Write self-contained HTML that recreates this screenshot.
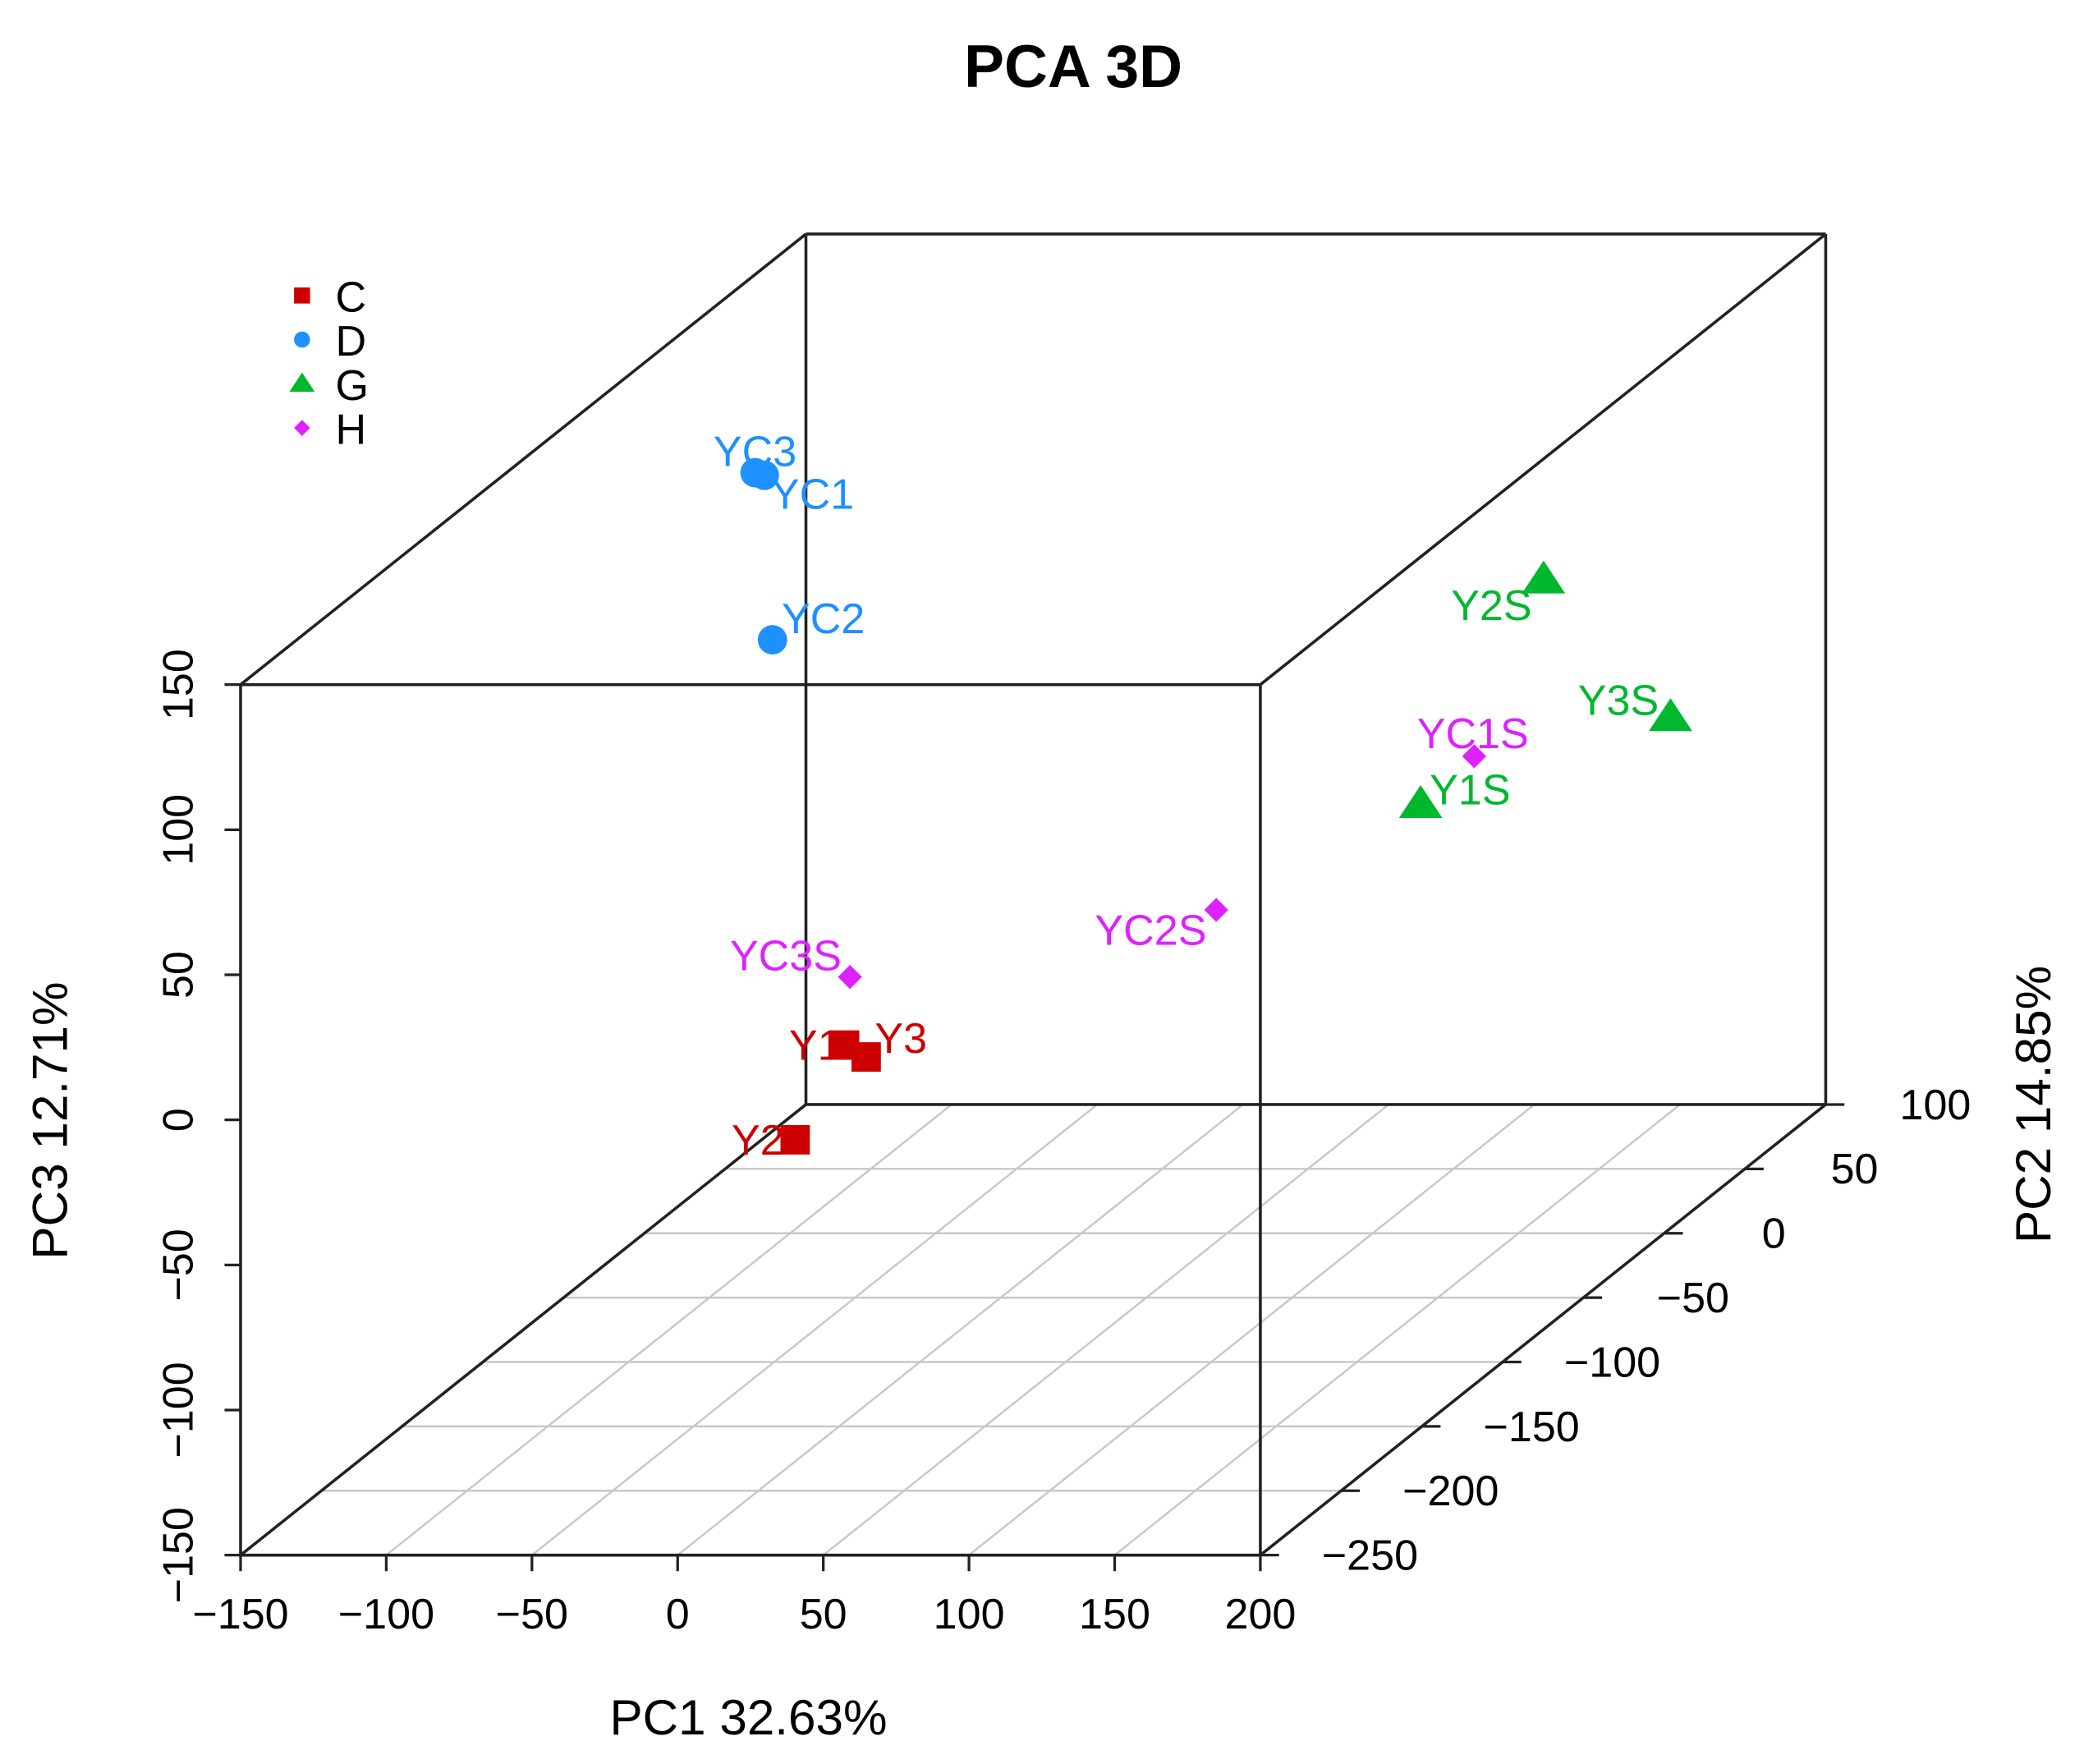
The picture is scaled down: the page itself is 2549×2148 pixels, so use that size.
<!DOCTYPE html>
<html><head><meta charset="utf-8"><style>html,body{margin:0;padding:0;background:#fff}svg{display:block}</style></head>
<body>
<svg id="chart" width="2549" height="2148" viewBox="0 0 1566 1319.2" preserveAspectRatio="none" xmlns="http://www.w3.org/2000/svg" font-family="Liberation Sans, Arial, sans-serif">
<text x="803" y="65" text-anchor="middle" font-size="45" font-weight="bold">PCA 3D</text>
<g id="grid"></g>
<g id="box"></g>
<g id="axes"></g>
<g id="points"></g>
<g id="legend"></g>
<text x="560" y="1297" text-anchor="middle" font-size="37">PC1 32.63%</text>
<text transform="translate(50,838) rotate(-90)" text-anchor="middle" font-size="37">PC3 12.71%</text>
<text transform="translate(1534,826) rotate(-90)" text-anchor="middle" font-size="37">PC2 14.85%</text>
</svg>
<script>
const categories = ["YC3","YC1","YC2","Y2S","Y3S","YC1S","Y1S","YC2S","YC3S","Y1","Y3","Y2"];
const groups = ["D","D","D","G","G","H","G","H","H","C","C","C"];
const pc1 = [-84.3,-81.1,-50.6,130.9,191.1,134.8,127.5,101.7,3.7,29.6,37,34.8];
const pc2 = [-50,-50,-100,50,20,0,-20,-100,-150,-200,-200,-240];
const pc3 = [134.3,133.4,98.9,53.0,18.9,14.4,6.7,5.8,4.9,3.6,-0.5,-11.3];
const pc1Ticks = ["-150","-100","-50","0","50","100","150","200"];
const pc2Ticks = ["-250","-200","-150","-100","-50","0","50","100"];
const pc3Ticks = ["-150","-100","-50","0","50","100","150"];
const groupNames = ["C","D","G","H"];
const groupColors = {C:"#cc0000",D:"#1e90ff",G:"#00b82e",H:"#dd22ff"};
const labelOffsets = [[0,-16],[36,14],[38,-16],[-39,19],[-39,-13],[-1,-17],[37,-11],[-49,15],[-48,-16],[-22,0],[26,-14],[-28,0]];

const NS="http://www.w3.org/2000/svg";
const X0=180,X1=943,ZT=512,ZB=1163,DX=423,DY=-337;
const fx=v=>X0+(v+150)/350*(X1-X0);
const fz=v=>ZB-(v+150)/300*(ZB-ZT);
const fd=v=>(v+250)/350;
function proj(x,y,z){const d=fd(y);return [fx(x)+d*DX,fz(z)+d*DY];}
function mk(tag,attrs,parent){const e=document.createElementNS(NS,tag);for(const k in attrs)e.setAttribute(k,attrs[k]);parent.appendChild(e);return e;}
const grid=document.getElementById('grid'),box=document.getElementById('box'),axes=document.getElementById('axes'),pts=document.getElementById('points'),leg=document.getElementById('legend');

pc1Ticks.forEach(t=>{const v=+t;const a=proj(v,-250,-150),b=proj(v,100,-150);
 const l=mk('line',{x1:a[0],y1:a[1],x2:b[0],y2:b[1],stroke:'#c8c8c8','stroke-width':1.5},grid);
 
 });
pc2Ticks.forEach(t=>{const v=+t;const a=proj(-150,v,-150),b=proj(200,v,-150);
 const l=mk('line',{x1:a[0],y1:a[1],x2:b[0],y2:b[1],stroke:'#c8c8c8','stroke-width':1.5},grid);
 
 });

const c=[[-150,-250,-150],[200,-250,-150],[200,-250,150],[-150,-250,150],[-150,100,-150],[200,100,-150],[200,100,150],[-150,100,150]].map(p=>proj(...p));
[[0,1],[1,2],[2,3],[3,0],[4,5],[5,6],[6,7],[7,4],[0,4],[1,5],[2,6],[3,7]].forEach(([i,j])=>{
 const l=mk('line',{x1:c[i][0],y1:c[i][1],x2:c[j][0],y2:c[j][1],stroke:'#222','stroke-width':2.2},box);
 
 });

pc1Ticks.forEach(t=>{const x=fx(+t);
 const l=mk('line',{x1:x,y1:ZB,x2:x,y2:ZB+12,stroke:'#222','stroke-width':2},axes);
 
 
 const tx=mk('text',{x:x,y:ZB+55,'text-anchor':'middle','font-size':32},axes);tx.textContent=t.replace('-','\u2212');
 
 });
pc3Ticks.forEach(t=>{const y=fz(+t);
 const l=mk('line',{x1:X0-12,y1:y,x2:X0,y2:y,stroke:'#222','stroke-width':2},axes);
 
 
 const tx=mk('text',{transform:`translate(144,${y}) rotate(-90)`,'text-anchor':'middle','font-size':32},axes);tx.textContent=t.replace('-','\u2212');
 
 });
pc2Ticks.forEach(t=>{const p=proj(200,+t,-150);
 const l=mk('line',{x1:p[0],y1:p[1],x2:p[0]+14,y2:p[1],stroke:'#222','stroke-width':2},axes);
 
 
 const tx=mk('text',{x:p[0]+82,y:p[1]+11,'text-anchor':'middle','font-size':32},axes);tx.textContent=t.replace('-','\u2212');
 
 });

function marker(g,x,y,s,parent){const col=groupColors[g];let e;
 if(g==='C')e=mk('rect',{x:x-s,y:y-s,width:2*s,height:2*s,fill:col},parent);
 else if(g==='D')e=mk('circle',{cx:x,cy:y,r:s,fill:col},parent);
 else if(g==='G')e=mk('polygon',{points:`${x},${y-s*1.2} ${x+s*1.35},${y+s*0.85} ${x-s*1.35},${y+s*0.85}`,fill:col},parent);
 else e=mk('polygon',{points:`${x},${y-s} ${x+s},${y} ${x},${y+s} ${x-s},${y}`,fill:col},parent);
 return e;}

categories.forEach((n,i)=>{const p=proj(pc1[i],pc2[i],pc3[i]);const g=groups[i];
 const s={C:11,D:11,G:12,H:9}[g];
 const m=marker(g,p[0],p[1],s,pts);
 
 
 const tx=mk('text',{x:p[0]+labelOffsets[i][0],y:p[1]+labelOffsets[i][1]+11,'text-anchor':'middle','font-size':32,fill:groupColors[g]},pts);
 tx.textContent=n;
 
 });

groupNames.forEach((g,i)=>{const y=221+i*33;
 const m=marker(g,226,y,{C:6,D:6,G:7,H:6}[g],leg);
 
 
 const tx=mk('text',{x:251,y:y+12,'font-size':32},leg);tx.textContent=g;
 
 });
</script>
</body></html>
